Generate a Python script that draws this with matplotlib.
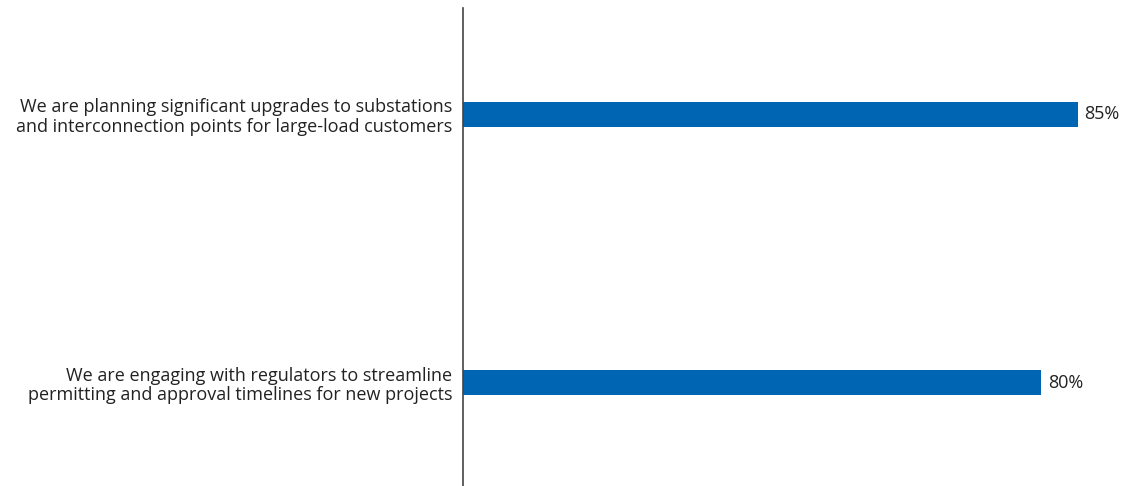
import matplotlib
matplotlib.use("Agg")
import matplotlib.pyplot as plt

categories = [
    "We are planning significant upgrades to substations\nand interconnection points for large-load customers",
    "We are engaging with regulators to streamline\npermitting and approval timelines for new projects",
]
values = [85, 80]
value_labels = ["85%", "80%"]

plt.rcParams["font.family"] = ["Open Sans", "DejaVu Sans"]

fig = plt.figure(figsize=(11.33, 4.86), dpi=100)
ax = fig.add_axes([463 / 1133, 0.0, 1 - 463 / 1133, 478 / 486])

pos = list(range(len(categories)))
ax.barh(pos, values, height=0.093, color="#0066b3", left=0)
ax.set_xlim(0, 670 / 7.23)
ax.set_ylim(1.386, -0.397)

for p, v, lab in zip(pos, values, value_labels):
    ax.text(v + 0.9, p, lab, va="center", ha="left", fontsize=13, color="#222222")

ax.set_yticks(pos)
ax.set_yticklabels(categories, fontsize=13, color="#222222", linespacing=1.12)
ax.tick_params(axis="y", length=0, pad=7.5)
ax.set_xticks([])
for s in ["top", "right", "bottom"]:
    ax.spines[s].set_visible(False)
ax.spines["left"].set_color("#444444")
ax.spines["left"].set_linewidth(1.2)
ax.patch.set_alpha(0)

fig.savefig("out.png", dpi=100)
